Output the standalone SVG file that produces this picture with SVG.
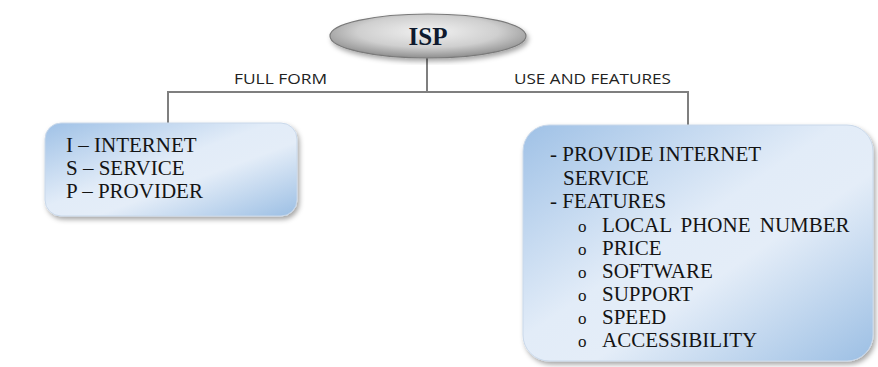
<svg xmlns="http://www.w3.org/2000/svg" width="878" height="367" viewBox="0 0 878 367">
<defs>
<radialGradient id="gEll" cx="0.5" cy="0.4" r="0.6">
<stop offset="0" stop-color="#f2f2f2"/>
<stop offset="0.6" stop-color="#cfcfcf"/>
<stop offset="1" stop-color="#8e8e8e"/>
</radialGradient>
<linearGradient id="gBox" x1="0" y1="0" x2="1" y2="1">
<stop offset="0" stop-color="#9fc1e6"/>
<stop offset="0.45" stop-color="#e2ecf8"/>
<stop offset="0.6" stop-color="#e4edf8"/>
<stop offset="1" stop-color="#9cbfe4"/>
</linearGradient>
<filter id="sh" x="-10%" y="-10%" width="125%" height="125%">
<feGaussianBlur in="SourceAlpha" stdDeviation="2.5"/>
<feOffset dx="2" dy="3" result="b"/>
<feFlood flood-color="#000" flood-opacity="0.35"/>
<feComposite in2="b" operator="in"/>
<feMerge><feMergeNode/><feMergeNode in="SourceGraphic"/></feMerge>
</filter>
</defs>
<style>
.conn{fill:none;stroke:#7f7f7f;stroke-width:2}
.box{fill:url(#gBox);stroke:#c9d8ea;stroke-width:1;filter:url(#sh)}
.b{font-size:17px}
</style>
<g id="connectors">
<path class="conn" d="M427,58 V92 M168,130 V92 H688 V130"/>
</g>
<g id="labels" font-family="Open Sans, Liberation Sans, sans-serif" font-size="15" fill="#222">
<text x="234" y="84" textLength="93" lengthAdjust="spacingAndGlyphs">FULL FORM</text>
<text x="514" y="84" textLength="157" lengthAdjust="spacingAndGlyphs">USE AND FEATURES</text>
</g>
<g id="isp">
<ellipse cx="428" cy="36" rx="98" ry="22" fill="url(#gEll)" stroke="#7a7a7a" stroke-width="1.2" filter="url(#sh)"/>
<text x="428" y="45" text-anchor="middle" font-family="Liberation Serif, serif" font-weight="bold" font-size="25" fill="#0f1a2e">ISP</text>
</g>
<g id="fullform" font-family="Liberation Serif, DejaVu Serif, serif" font-size="21" fill="#141414">
<rect class="box" x="45" y="123" width="252" height="93" rx="16"/>
<text x="66" y="152">I – INTERNET</text>
<text x="66" y="175">S – SERVICE</text>
<text x="66" y="198">P – PROVIDER</text>
</g>
<g id="features" font-family="Liberation Serif, DejaVu Serif, serif" font-size="21" fill="#141414">
<rect class="box" x="523" y="125" width="350" height="236" rx="26"/>
<text x="550" y="161">- PROVIDE INTERNET</text>
<text x="563" y="185">SERVICE</text>
<text x="550" y="208">- FEATURES</text>
<text class="b" x="578" y="232">o</text><text x="602" y="232" word-spacing="4">LOCAL PHONE NUMBER</text>
<text class="b" x="578" y="255">o</text><text x="602" y="255">PRICE</text>
<text class="b" x="578" y="278">o</text><text x="602" y="278">SOFTWARE</text>
<text class="b" x="578" y="301">o</text><text x="602" y="301">SUPPORT</text>
<text class="b" x="578" y="324">o</text><text x="602" y="324">SPEED</text>
<text class="b" x="578" y="347">o</text><text x="602" y="347">ACCESSIBILITY</text>
</g>
</svg>
